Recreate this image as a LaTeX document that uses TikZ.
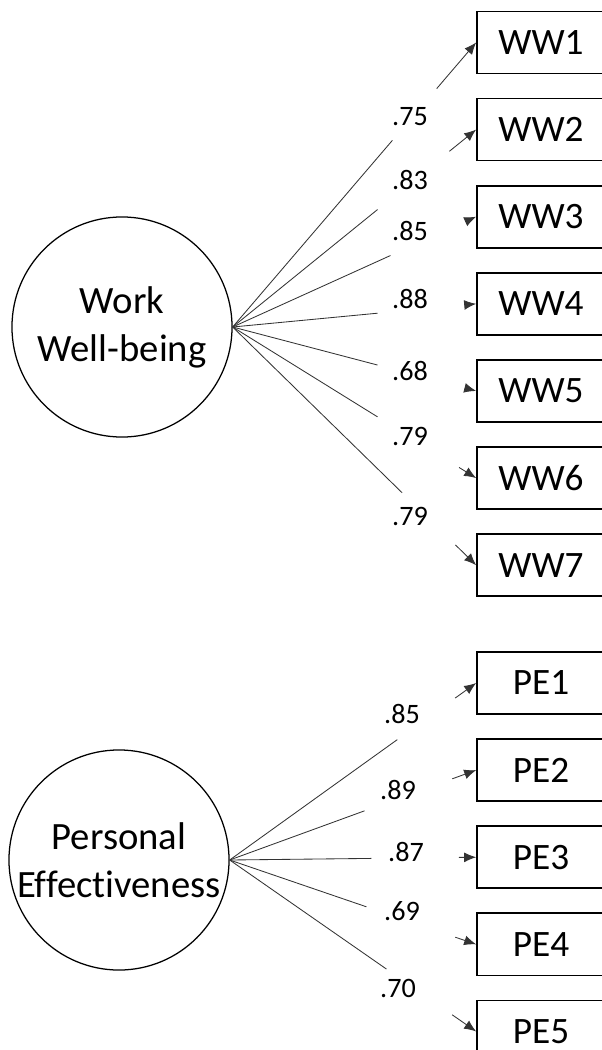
\documentclass[tikz,border=0pt]{standalone}
\usepackage{fontspec}
\setmainfont{Carlito}[Ligatures=NoCommon]
\usetikzlibrary{arrows.meta,positioning}

\begin{document}
\begin{tikzpicture}[
        x=0.025cm, y=-0.025cm,
        every node/.style={align=center},
        factor/.style={draw, circle, line width=0.9pt, minimum size=5.5cm, inner sep=0pt, font=\fontsize{27.5}{34}\selectfont},
        item/.style={draw, line width=1.2pt, minimum width=3.2cm, minimum height=1.55cm, inner sep=0pt, font=\fontsize{26.5}{31}\selectfont},
        load/.style={font=\fontsize{20}{24}\selectfont, inner sep=0pt},
        link/.style={draw=black!80, line width=0.6pt},
        linkarr/.style={link, -{Latex[length=8.5pt,width=7pt]}},
        node distance=0.585cm
      ]
      \useasboundingbox (0,0) rectangle (601,1050);

      % work well-being
      \node[factor] (ww) at (122,327) {Work\\Well-being};
      \node[item] (ww1) at (541,42.5) {WW1};
      \node[item, below=of ww1] (ww2) {WW2};
      \node[item, below=of ww2] (ww3) {WW3};
      \node[item, below=of ww3] (ww4) {WW4};
      \node[item, below=of ww4] (ww5) {WW5};
      \node[item, below=of ww5] (ww6) {WW6};
      \node[item, below=of ww6] (ww7) {WW7};

      \node[load] (wl1) at (410,117) {.75};
      \node[load] (wl2) at (410,180) {.83};
      \node[load] (wl3) at (410,231) {.85};
      \node[load] (wl4) at (410,299) {.88};
      \node[load] (wl5) at (410,371) {.68};
      \node[load] (wl6) at (410,436) {.79};
      \node[load] (wl7) at (410,516) {.79};

      \foreach \i/\a/\b in {1/.656/.838, 2/.595/.89, 3/.648/.955, 4/.595/.955, 5/.595/.955, 6/.595/.93, 7/.696/.915} {
        \path (ww.east) -- (ww\i.west) coordinate[pos=\a] (wa\i) coordinate[pos=\b] (wb\i);
        \draw[link] (ww.east) -- (wa\i);
        \draw[linkarr] (wb\i) -- (ww\i.west);
      }

      % personal effectiveness
      \node[factor] (pe) at (119,860) {Personal\\Effectiveness};
      \node[item] (pe1) at (541,683) {PE1};
      \node[item, below=of pe1] (pe2) {PE2};
      \node[item, below=of pe2] (pe3) {PE3};
      \node[item, below=of pe3] (pe4) {PE4};
      \node[item, below=of pe4] (pe5) {PE5};

      \node[load] (pl1) at (402,714) {.85};
      \node[load] (pl2) at (398,790) {.89};
      \node[load] (pl3) at (406,852) {.87};
      \node[load] (pl4) at (402,911) {.69};
      \node[load] (pl5) at (398,988) {.70};

      \foreach \i/\a/\b in {1/.68/.915, 2/.547/.903, 3/.575/.93, 4/.555/.915, 5/.636/.903} {
        \path (pe.east) -- (pe\i.west) coordinate[pos=\a] (pa\i) coordinate[pos=\b] (pb\i);
        \draw[link] (pe.east) -- (pa\i);
        \draw[linkarr] (pb\i) -- (pe\i.west);
      }
    \end{tikzpicture}
\end{document}
